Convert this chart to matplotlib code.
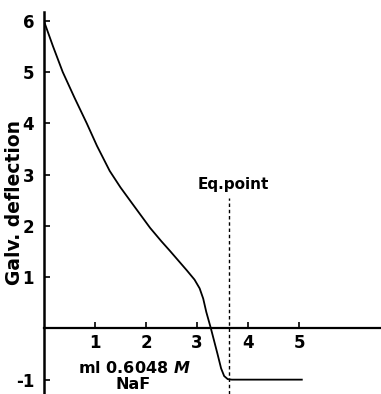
import matplotlib
matplotlib.use("Agg")
import matplotlib.pyplot as plt

# titration curve
ml_naf = [0.0, 0.18, 0.37, 0.6, 0.84, 1.04, 1.29, 1.5, 1.69, 2.08, 2.3, 2.47,
          2.8, 2.95, 3.05, 3.12, 3.18, 3.27, 3.4, 3.47, 3.53, 3.6, 3.68, 5.05]
deflection = [6.0, 5.5, 5.0, 4.5, 4.0, 3.56, 3.07, 2.75, 2.49, 1.96, 1.7, 1.51,
              1.13, 0.95, 0.78, 0.58, 0.32, 0.0, -0.5, -0.78, -0.93, -0.99, -1.0, -1.0]

x_ticks = [1, 2, 3, 4, 5]
y_ticks = [-1, 1, 2, 3, 4, 5, 6]
eq_point = 3.63
eq_top = 2.54

fig = plt.figure(figsize=(3.81, 3.94), dpi=100)
ax = fig.add_axes([0.115, 0.0, 0.885, 1 - 12 / 394])
ax.set_xlim(0, 6.6)
ax.set_ylim(-1.28, 6.17)

ax.plot(ml_naf, deflection, color="black", linewidth=1.3)
ax.plot([eq_point, eq_point], [-1.28, eq_top], color="black", linewidth=1.0,
        linestyle=(0, (2.5, 2)))
ax.text(eq_point + 0.08, eq_top + 0.12, "Eq.point", ha="center", va="bottom",
        fontsize=11, fontweight="bold")

for side in ["top", "right"]:
    ax.spines[side].set_visible(False)
ax.spines["bottom"].set_position(("data", 0))
ax.spines["left"].set_linewidth(1.8)
ax.spines["bottom"].set_linewidth(1.6)

ax.set_xticks(x_ticks)
ax.set_yticks(y_ticks)
ax.set_xticklabels([str(t) for t in x_ticks], fontsize=12, fontweight="bold")
ax.set_yticklabels([str(t) for t in y_ticks], fontsize=12, fontweight="bold")
ax.tick_params(axis="both", direction="in", length=4, width=1.2)
ax.tick_params(axis="y", pad=7)
ax.tick_params(axis="x", pad=4)

ax.text(1.78, -0.78, "ml 0.6048 $\\mathbfit{M}$", ha="center", va="center",
        fontsize=11.5, fontweight="bold")
ax.text(1.75, -1.1, "NaF", ha="center", va="center",
        fontsize=11.5, fontweight="bold")

fig.text(0.038, 0.485, "Galv. deflection", rotation=90, ha="center", va="center",
         fontsize=13.5, fontweight="bold")

fig.savefig("out.png", dpi=100)
